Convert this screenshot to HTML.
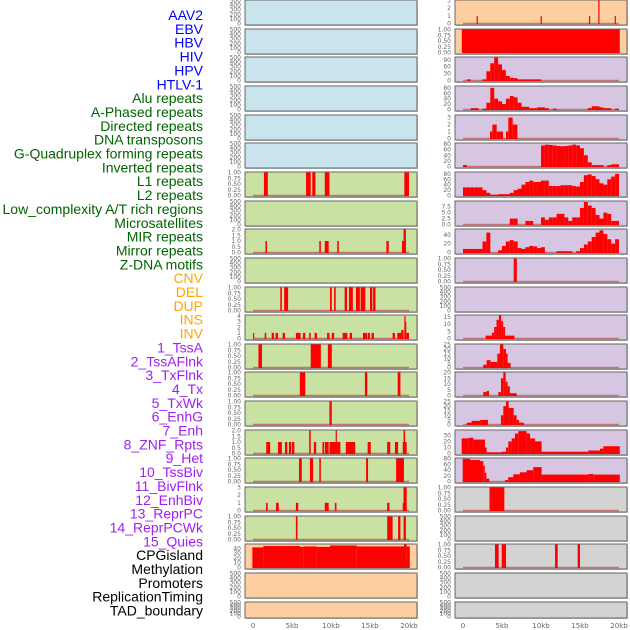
<!DOCTYPE html>
<html><head><meta charset="utf-8"><style>
html,body{margin:0;padding:0;background:#fff;width:630px;height:630px;overflow:hidden}
svg{display:block}
</style></head><body>
<svg id="chart" width="630" height="630" xmlns="http://www.w3.org/2000/svg"></svg>
<script>
// ---------- labels ----------
const labels = ["AAV2","EBV","HBV","HIV","HPV","HTLV-1","Alu repeats","A-Phased repeats","Directed repeats","DNA transposons","G-Quadruplex forming repeats","Inverted repeats","L1 repeats","L2 repeats","Low_complexity A/T rich regions","Microsatellites","MIR repeats","Mirror repeats","Z-DNA motifs","CNV","DEL","DUP","INS","INV","1_TssA","2_TssAFlnk","3_TxFlnk","4_Tx","5_TxWk","6_EnhG","7_Enh","8_ZNF_Rpts","9_Het","10_TssBiv","11_BivFlnk","12_EnhBiv","13_ReprPC","14_ReprPCWk","15_Quies","CPGisland","Methylation","Promoters","ReplicationTiming","TAD_boundary"];
const labelGroups = [6,13,5,15,5];
const xTicks = [0,5,10,15,20];
const xTickLabels = ["0","5kb","10kb","15kb","20kb"];

// ---------- data (kb start, kb end, value) ----------
const R0s=[1.75,9.95,16.15,17.35,19.45], R0e=[1.87,10.07,16.27,17.47,19.57], R0v=[1,1,1,3,1];
const R1s=[-0.15], R1e=[20.1], R1v=[1];
const R2v=[0,5,0,0,0,5,40,75,100,70,45,20,12,10,5,5,5,5,5,5];
const R3v=[0,0,5,5,0,3,25,80,40,30,20,40,50,45,25,10,10,5,5,8,8,5,0,3,0,0,0,0,0,0,0,0,5,12,12,8,5,5,0,3];
const R4s=[3.46,3.76,4.32,5.51,5.81,6.37], R4e=[3.76,4.32,5.13,5.81,6.37,6.97], R4v=[1,2,1,1,3,2];
const R5v=[5,0,0,0,0,0,0,0,0,0,0,0,0,0,0,0,0,0,0,0,75,78,77,75,73,72,73,75,78,75,65,40,15,5,5,5,0,5,8,8];
const R6v=[30,30,30,30,30,20,10,3,3,5,5,5,10,20,25,40,50,55,50,50,55,55,35,35,35,38,38,38,35,33,50,75,78,72,60,45,40,60,70,80];
const R7v=[0,0,0,0,0,0,0,0,0,0,0,0,2.5,2.5,0,0,1.5,1.5,0,0,3,2,3,3,4.5,4.5,3,1.5,3,3,7,9.5,8,7,4,2.5,5,4.5,1.5,1.5];
const R8v=[8,8,8,8,8,25,45,0,0,5,15,25,28,25,10,8,12,15,14,10,12,0,0,0,3,3,3,3,0,3,10,18,25,35,45,50,42,30,20,30];
const R9s=[6.5], R9e=[6.9], R9v=[1];
const R11s=[2.9,3.7,4.0,4.3,4.6,4.9,5.15,5.4], R11e=[3.7,4.0,4.3,4.6,4.9,5.15,5.4,6.6], R11v=[2,4,8,13,16,12,8,2];
const R12s=[2.6,3.03,3.55,4.4,4.74,5.17,5.51,5.72], R12e=[3.03,3.55,4.4,4.74,5.17,5.51,5.72,6.1], R12v=[3,8,6,15,25,20,15,5];
const R13s=[2.6,3.03,4.53,4.87,5.17,5.47,5.72,6.0], R13e=[3.03,3.33,4.87,5.17,5.47,5.72,6.0,6.88], R13v=[3,4,3,15,20,12,8,2];
const R14s=[0.5,1.1,2.2,4.87,5.17,5.51,5.85,6.5,6.88,7.18], R14e=[1.1,2.2,3.2,5.17,5.51,5.85,6.5,6.88,7.18,7.8], R14v=[2,4,5,10,20,25,18,10,5,2];
const R15s=[-0.17,0.68,1.33,2.82,3.03,4.96,5.51,5.81,6.24,6.66,7.09,8.16,8.6,9.23,10.08,16.07,17.56,17.99], R15e=[0.68,1.33,2.82,3.03,4.96,5.51,5.81,6.24,6.66,7.09,8.16,8.6,9.23,10.08,16.07,17.56,17.99,20.1], R15v=[25,26,23,10,2,3,10,20,25,33,37,33,25,20,3,5,8,12];
const R16s=[-0.04,0.9,2.18,2.6,2.8,3.0,5.38,5.8,6.45,7.3,8.15,9.0,10.08,16.05,16.7], R16e=[0.9,2.18,2.6,2.8,3.0,3.37,5.8,6.45,7.3,8.15,9.0,10.08,16.05,16.7,20.1], R16v=[79,75,71,55,30,10,5,15,25,32,39,50,24,26,24];
const R17s=[3.4], R17e=[5.3], R17v=[1];
const R19s=[4.1,4.96,11.8,14.7], R19e=[4.57,5.52,12.14,15.0], R19v=[1,1,1,1];

const L6s=[1.4,6.8,7.6,9.2,19.4], L6e=[1.9,7.4,8.0,9.8,20.0], L6v=[1,1,1,1,1];
const L8s=[1.6,8.5,9.2,10.8,17.1,19.1,19.3], L8e=[1.8,8.7,9.7,11.0,17.4,19.6,19.6], L8v=[1,1,1,1,1,1,2];
const L10s=[3.5,4.0,9.87,10.4,11.75,12.3,13.2,13.8,15.0,15.4], L10e=[3.7,4.5,10.1,10.6,12.05,12.8,13.7,14.4,15.3,15.7], L10v=[1,1,1,1,1,1,1,1,1,1];
const L11s=[0,1.5,2.4,2.9,3.8,5.5,6.4,7.2,7.9,9.5,10.1,11.5,12.4,14.1,14.7,15.2,17.9,18.5,19.0,19.4,19.5,19.65], L11e=[0.15,1.7,2.7,3.2,4.1,6.1,6.7,7.4,8.2,9.8,10.4,12.1,12.7,14.6,15.0,15.5,18.2,19.0,19.3,19.5,19.65,20.0], L11v=[1,1,1,1,1,1,1,1,1,1,1,1,1,1,1,1,1,1,1.5,4,3,1];
const L12s=[0.7,7.4,9.6], L12e=[1.15,8.7,10.1], L12v=[1,1,1];
const L13s=[6.0,14.35,18.55], L13e=[6.7,14.65,18.9], L13v=[1,1,1];
const L14s=[9.8], L14e=[10.1], L14v=[1];
const L15s=[1.7,3.2,4.1,4.6,5.0,7.2,7.8,8.9,9.2,9.8,10.6,11.9,14.7,17.2,18.2,19.2,19.3], L15e=[2.2,3.7,4.4,4.9,5.3,7.4,8.1,9.1,9.7,11.2,10.75,13.1,15.1,17.6,18.6,19.7,19.5], L15v=[1,1,1,1,1,2,1,1,1,1,2,1,1,1,1,1,2];
const L16s=[5.9,7.3,8.5,14.5,18.35], L16e=[6.25,7.7,8.7,14.75,19.35], L16v=[1,1,1,1,1];
const L17s=[1.67,2.95,5.5,9.2,10.5,17.2,19.2,19.3], L17e=[1.88,3.3,5.8,9.7,10.7,17.5,19.7,19.7], L17v=[1,1,1,1,1,1,1,3];
const L18s=[5.5,17.2,18.6,19.3], L18e=[5.7,17.9,18.9,19.6], L18v=[1,1,1,1];
const L19s=[-0.08,1.33,6.03,6.45,8.16,9.87,13.3,19.36,19.7], L19e=[1.33,6.03,6.45,8.16,9.87,13.3,19.36,19.7,20.1], L19v=[42,45,43,44,43,46,44,48,44];

// tick sets
const T500=[0,100,200,300,400,500], T1=[0,0.25,0.5,0.75,1], T3=[0,1,2,3], T2=[0,0.5,1,1.5,2];

function bins(v,bw){const s=[],e=[];for(let i=0;i<v.length;i++){s.push(i*bw);e.push(i*bw+bw);}return {s:s,e:e,v:v};}
function seg(s,e,v){return {s:s,e:e,v:v};}

const C={blue:"#c9e4ec",green:"#c9e1a2",orange:"#fdcfa0",purple:"#d6c6e2",grey:"#d3d3d3"};
const rows=[
 ["blue",T500,500,null,"orange",T3,3,seg(R0s,R0e,R0v)],
 ["blue",T500,500,null,"orange",T1,1,seg(R1s,R1e,R1v)],
 ["blue",T500,500,null,"purple",[0,30,60,90],100,bins(R2v,0.5)],
 ["blue",T500,500,null,"purple",[0,20,40,60,80],85,bins(R3v,0.5)],
 ["blue",T500,500,null,"purple",T3,3.3,seg(R4s,R4e,R4v)],
 ["blue",T500,500,null,"purple",[0,20,40,60,80],82,bins(R5v,0.5)],
 ["green",T1,1,seg(L6s,L6e,L6v),"purple",[0,20,40,60,80],85,bins(R6v,0.5)],
 ["green",T500,500,null,"purple",[0,2.5,5,7.5],9.7,bins(R7v,0.5)],
 ["green",T2,2,seg(L8s,L8e,L8v),"purple",[0,20,40],52,bins(R8v,0.5)],
 ["green",T500,500,null,"purple",T1,1,seg(R9s,R9e,R9v)],
 ["green",T1,1,seg(L10s,L10e,L10v),"purple",T500,500,null],
 ["green",[0,1,2,3,4],4.1,seg(L11s,L11e,L11v),"purple",[0,5,10,15],16,seg(R11s,R11e,R11v)],
 ["green",T1,1,seg(L12s,L12e,L12v),"purple",[0,5,10,15,20,25],25,seg(R12s,R12e,R12v)],
 ["green",T1,1,seg(L13s,L13e,L13v),"purple",[0,5,10,15,20],20,seg(R13s,R13e,R13v)],
 ["green",T1,1,seg(L14s,L14e,L14v),"purple",[0,5,10,15,20,25],25,seg(R14s,R14e,R14v)],
 ["green",T2,2,seg(L15s,L15e,L15v),"purple",[0,10,20,30],38,seg(R15s,R15e,R15v)],
 ["green",T1,1,seg(L16s,L16e,L16v),"purple",[0,20,40,60,80],80,seg(R16s,R16e,R16v)],
 ["green",T3,3,seg(L17s,L17e,L17v),"grey",T1,1,seg(R17s,R17e,R17v)],
 ["green",T1,1,seg(L18s,L18e,L18v),"grey",T500,500,null],
 ["orange",[0,10,20,30,40],48,seg(L19s,L19e,L19v),"grey",T1,1,seg(R19s,R19e,R19v)],
 ["orange",T500,500,null,"grey",T500,500,null],
 ["orange",T500,500,null,"grey",T500,500,null]
];

const NS="http://www.w3.org/2000/svg";
const svg=document.getElementById("chart");
function el(tag,attrs,parent){const e=document.createElementNS(NS,tag);for(const k in attrs)e.setAttribute(k,attrs[k]);(parent||svg).appendChild(e);return e;}

const gColors=["#0000ff","#006400","#ffa500","#a020f0","#000000"];
let li=0;
labelGroups.forEach((n,g)=>{for(let k=0;k<n;k++){
  const t=el("text",{x:203,y:20+li*13.85,"text-anchor":"end","font-family":"Liberation Sans, Arial, sans-serif","font-size":"14",fill:gColors[g]});
  t.textContent=labels[li];
  
  
  li++;}});

const panels=[{x0:245,x1:417,z:253,k:7.8,tickX:241},{x0:455,x1:627,z:463,k:7.8,tickX:451}];
function fmt(ticks,t){
  if(ticks===T1) return t.toFixed(2);
  if(ticks[1]===2.5) return t.toFixed(1);
  if(ticks===T2) return t.toFixed(1);
  return String(t);}

rows.forEach((r,i)=>{
  const top=Math.round(i*28.65), h=(i===21?16:25);
  [0,1].forEach(side=>{
    const P=panels[side];
    const bg=r[side*4], ticks=r[side*4+1], ymax=r[side*4+2], d=r[side*4+3];
    const g=el("g",{});
    
    
    el("rect",{x:P.x0+1,y:top+1,width:P.x1-P.x0,height:h,fill:"#c8c8c8"},g);
    el("rect",{x:P.x0,y:top,width:P.x1-P.x0,height:h,fill:C[bg],stroke:"#666","stroke-width":1},g);
    const ytop=top+0.5, ybot=top+h-1.5;
    const Y=v=>ybot-(v/ymax)*(ybot-ytop);
    const X=v=>P.z+v*P.k;
    ticks.forEach(t=>{
      const tx=el("text",{x:P.tickX,y:Y(t)+2,"text-anchor":"end","font-family":"DejaVu Sans, Liberation Sans, sans-serif","font-size":"6",fill:"#666"},g);
      tx.textContent=fmt(ticks,t);
      
      
    });
    if(d){
      el("line",{x1:X(0),x2:X(20),y1:ybot,y2:ybot,stroke:"#c06060","stroke-width":1.5,opacity:0.8},g);
      for(let j=0;j<d.v.length;j++){
        if(!d.v[j]) continue;
        const x1=X(d.s[j]), x2=X(d.e[j]);
        const b=el("rect",{x:Math.min(x1,x2),y:Y(d.v[j]),width:Math.max(1.2,Math.abs(x2-x1)),height:ybot-Y(d.v[j])+0.5,fill:"#ff0000"},g);
        
        
      }
    }
  });
});

panels.forEach((P,s)=>{
  xTicks.forEach((t,j)=>{
    const tx=el("text",{x:P.z+t*P.k,y:628,"text-anchor":"middle","font-family":"DejaVu Sans, Liberation Sans, sans-serif","font-size":"7",fill:"#666"});
    tx.textContent=xTickLabels[j];
    
    
  });
});
</script>
</body></html>
